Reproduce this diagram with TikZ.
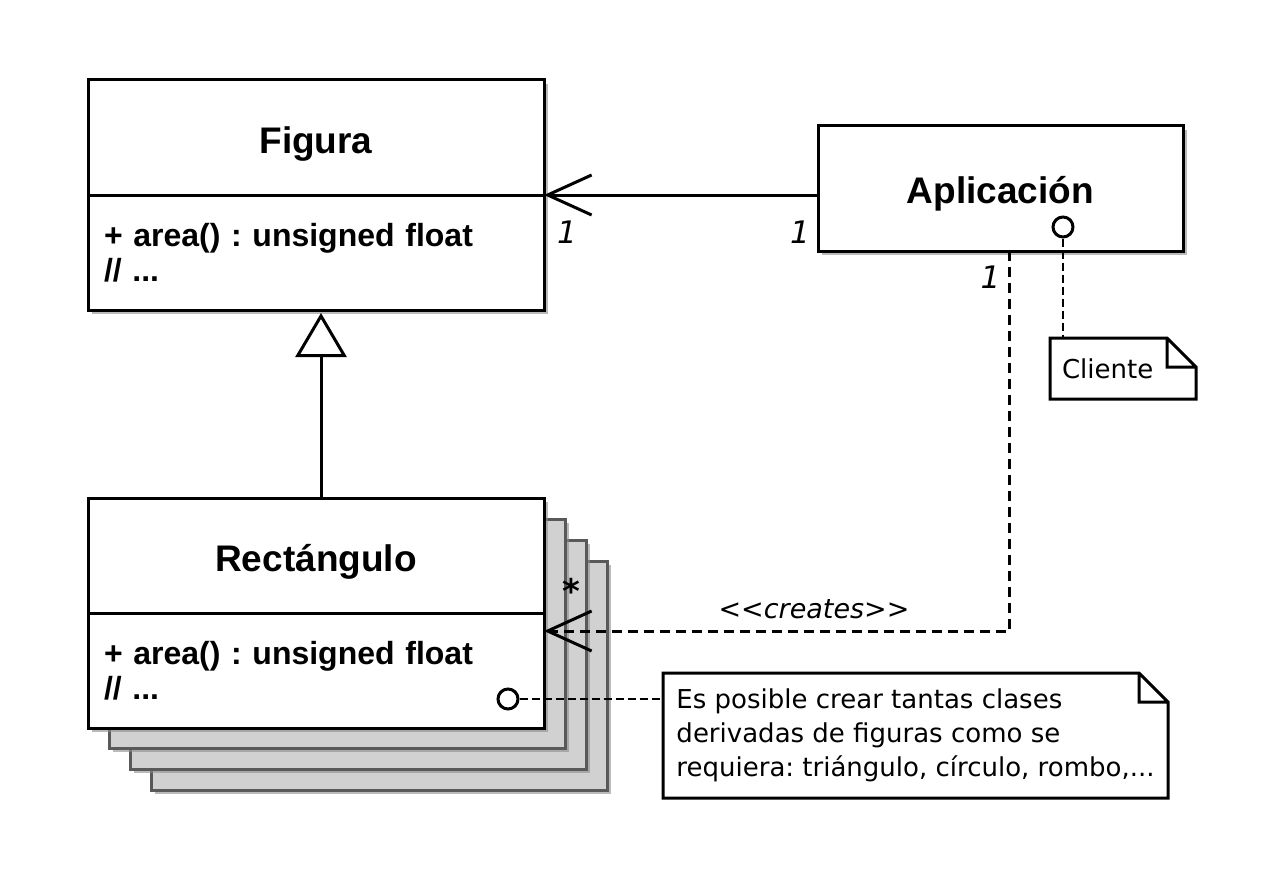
\documentclass[tikz,border=0pt]{standalone}
\usepackage{fontspec}
\setmainfont{Liberation Sans}
\newfontfamily\notefont{DejaVu Sans}
\usepackage{tikz}
\usetikzlibrary{arrows,arrows.meta,shapes,shadows,positioning}
\frenchspacing

\begin{document}
\begin{tikzpicture}[x=1pt,y=-1pt,>=stealth']
  \tikzstyle{boxshadow}=[drop shadow={shadow xshift=4pt,shadow yshift=-4pt,fill=black!45,opacity=.6}]
  \tikzstyle{classname}=[rectangle,line width=3pt,draw=black,fill=white,minimum width=456pt,minimum height=115pt,outer sep=0pt,text height=32pt,text depth=0pt,font=\fontsize{37}{44}\selectfont\bfseries,boxshadow]
  \tikzstyle{classops}=[classname,text height=,text depth=,font=\fontsize{32}{35}\selectfont\bfseries,text width=424pt,align=left,inner xsep=16pt]
  \tikzstyle{backbox}=[rectangle,line width=3pt,draw=black!65,fill=black!18,minimum width=456pt,minimum height=229pt,outer sep=0pt,boxshadow]
  \tikzstyle{port}=[circle,line width=3pt,draw=black,fill=white,minimum size=20pt,inner sep=0pt]
  \tikzstyle{note}=[rectangle,fill=white,outer sep=0pt,align=left,font=\notefont\fontsize{26}{34}\selectfont]
  \tikzstyle{mult}=[inner sep=0pt,font=\notefont\itshape\fontsize{31}{36}\selectfont]
  \tikzstyle{assoc}=[line width=3pt,-{Straight Barb[length=44pt,width=40pt]}]
  \tikzstyle{depend}=[assoc,dash pattern=on 10pt off 6pt]
  \tikzstyle{inherit}=[line width=3pt,-{Triangle[open,length=44pt,width=51pt,fill=white]}]
  \tikzstyle{notelink}=[line width=2pt,dash pattern=on 8pt off 4pt]

  \path [use as bounding box,fill=white] (0,0) rectangle (1280,880);

  \begin{scope}
    % copies behind Rectangulo
    \foreach \k in {3,2,1}
      \node [backbox] (rectback\k) at (316+21*\k,612.5+21*\k) {};

    \node [classname] (figura) at (316,137.5) {Figura};
    \node [classops,below=0pt of figura] (figuraops) {+ area() : unsigned float\\// ...};
    \node [classname] (rectangulo) at (316,555.5) {Rectángulo};
    \node [classops,below=0pt of rectangulo] (rectops) {+ area() : unsigned float\\// ...};
    \node [classname,minimum width=365pt,minimum height=125pt,text height=30pt] (aplicacion) at (1000.5,188.5) {Aplicación};

    \node [port] (appdot) at (1063,227) {};
    \node [port] (rectdot) at (508,699) {};

    \node [note,text width=122pt,inner xsep=12pt,minimum height=61pt] (cliente) at (1123,368.5) {Cliente};
    \node [note,minimum width=505pt,minimum height=125pt] (comment) at (915.5,735.5)
      {Es posible crear tantas clases\\derivadas de figuras como se\\requiera: triángulo, círculo, rombo,...};
  \end{scope}

  % folded corners of the notes
  \foreach \n in {cliente,comment}
    \draw [line width=3pt] (\n.north west) -- ([xshift=-29pt]\n.north east)
      -- ([yshift=-29pt]\n.north east) -- (\n.south east) -- (\n.south west) -- cycle
      ([xshift=-29pt]\n.north east) |- ([yshift=-29pt]\n.north east);

  \begin{scope}
    \draw [assoc] (aplicacion.west |- figura.south) -- (figura.south east)
      node [mult,at start,xshift=-18pt,yshift=-37pt] {1}
      node [mult,at end,xshift=23pt,yshift=-37pt] {1};
    \draw [inherit] ([xshift=5pt]rectangulo.north) -- ([xshift=5pt,yshift=-3pt]figuraops.south);
    \draw [depend] ([xshift=9pt]aplicacion.south) |- ([yshift=-18pt]rectops.north east)
      node [mult,at start,xshift=-19pt,yshift=-26pt] {1}
      node [mult,pos=0.71,yshift=22pt,font=\notefont\itshape\fontsize{27}{32}\selectfont] {<\kern0pt<creates>\kern0pt>}
      node [mult,at end,xshift=27pt,yshift=40pt,font=\notefont\bfseries\fontsize{34}{40}\selectfont] {*};
    \draw [notelink] (appdot) -- (appdot |- cliente.north);
    \draw [notelink] (rectdot) -- (rectdot -| comment.west);
  \end{scope}
\end{tikzpicture}
\end{document}
